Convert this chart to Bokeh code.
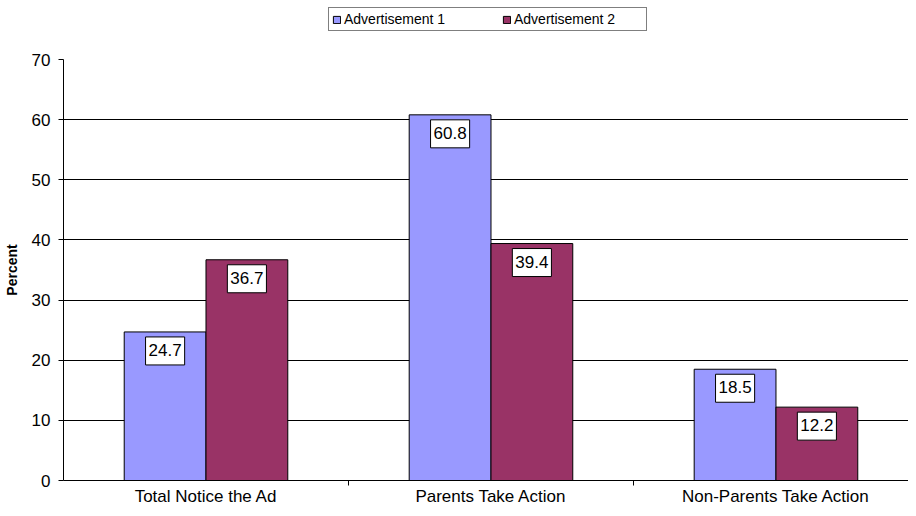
from bokeh.plotting import figure
from bokeh.layouts import column
from bokeh.models import (ColumnDataSource, Range1d, FixedTicker,
                          Legend, LegendItem)
from bokeh.transform import dodge
from bokeh.core.properties import value
from bokeh.embed import file_html
from bokeh.resources import INLINE

categories = ["Total Notice the Ad", "Parents Take Action", "Non-Parents Take Action"]
ad1 = [24.7, 60.8, 18.5]
ad2 = [36.7, 39.4, 12.2]
series_names = ["Advertisement 1", "Advertisement 2"]
series_colors = ["#9999FF", "#993366"]
y_ticks = [0, 10, 20, 30, 40, 50, 60, 70]
y_title = "Percent"

FONT = "Liberation Sans"
W = 908
LEG_H = 45
x_pos = [i + 0.5 for i in range(len(categories))]
x_bounds = [i for i in range(1, len(categories))]
src = ColumnDataSource(dict(
    x=x_pos, ad1=ad1, ad2=ad2,
    l1=[f"{v:.1f}" for v in ad1], l2=[f"{v:.1f}" for v in ad2],
))

p = figure(width=W, height=508 - LEG_H, output_backend="svg", toolbar_location=None,
           x_range=Range1d(0, 2.965), y_range=Range1d(0, 70),
           min_border_left=61, min_border_right=0, min_border_top=14,
           min_border_bottom=27)
p.outline_line_color = None
p.background_fill_color = "white"

bw = 0.287
r1 = p.vbar(x=dodge("x", -bw / 2, range=p.x_range), top="ad1", width=bw, source=src,
            fill_color=series_colors[0], line_color="black", line_width=1)
r2 = p.vbar(x=dodge("x", bw / 2, range=p.x_range), top="ad2", width=bw, source=src,
            fill_color=series_colors[1], line_color="black", line_width=1)

pad = dict(left=3, right=3, top=7, bottom=9)
for col, lab, off in (("ad1", "l1", -bw / 2), ("ad2", "l2", bw / 2)):
    p.text(x=dodge("x", off, range=p.x_range), y=col, text=lab, source=src,
           text_align="center", text_baseline="top", y_offset=5,
           text_font=value(FONT), text_font_size="17px", text_color="black",
           background_fill_color="white", border_line_color="black",
           border_line_width=1, padding=pad)

# y axis
p.yaxis.ticker = FixedTicker(ticks=y_ticks)
p.yaxis.major_tick_out = 5
p.yaxis.major_tick_in = 0
p.yaxis.minor_tick_line_color = None
p.yaxis.axis_line_color = "black"
p.yaxis.major_tick_line_color = "black"
p.yaxis.major_label_text_font = FONT
p.yaxis.major_label_text_font_size = "17px"
p.yaxis.major_label_text_color = "black"
p.yaxis.major_label_standoff = 8
p.yaxis.axis_label = y_title
p.yaxis.axis_label_text_font = FONT
p.yaxis.axis_label_text_font_size = "14px"
p.yaxis.axis_label_text_font_style = "bold"
p.yaxis.axis_label_text_color = "black"
p.yaxis.axis_label_standoff = 9

p.ygrid.ticker = FixedTicker(ticks=y_ticks)
p.ygrid.grid_line_color = "black"
p.ygrid.grid_line_width = 1
p.xgrid.visible = False

# x axis: category labels at centres, small ticks at category boundaries
xa = p.xaxis[0]
xa.ticker = FixedTicker(ticks=x_pos, minor_ticks=x_bounds)
xa.major_label_overrides = {x: c for x, c in zip(x_pos, categories)}
xa.major_tick_line_color = None
xa.major_tick_out = 5
xa.major_tick_in = 0
xa.minor_tick_line_color = "black"
xa.minor_tick_out = 5
xa.minor_tick_in = 0
xa.axis_line_color = "black"
xa.major_label_standoff = 1
xa.major_label_text_font = FONT
xa.major_label_text_font_size = "17px"
xa.major_label_text_color = "black"

# legend strip above the chart (placeholder glyphs lie outside its visible range)
lf = figure(width=W, height=LEG_H, output_backend="svg", toolbar_location=None,
            x_range=Range1d(0, 1), y_range=Range1d(0, 1),
            x_axis_location=None, y_axis_location=None, min_border=0)
lf.outline_line_color = None
lf.grid.visible = False
lr1 = lf.vbar(x=[-5], bottom=[-5], top=[-4], width=0.1,
              fill_color=series_colors[0], line_color="black")
lr2 = lf.vbar(x=[-5], bottom=[-5], top=[-4], width=0.1,
              fill_color=series_colors[1], line_color="black")
legend = Legend(items=[LegendItem(label=series_names[0], renderers=[lr1]),
                       LegendItem(label=series_names[1], renderers=[lr2])],
                orientation="horizontal", location=(265, LEG_H - 9 - 22),
                glyph_width=9, glyph_height=9, label_standoff=3,
                label_height=15, label_width=129, spacing=29, padding=3, margin=0,
                border_line_color="black", border_line_width=1,
                background_fill_color="white", background_fill_alpha=1,
                label_text_font=FONT, label_text_font_size="14px",
                label_text_color="black")
lf.add_layout(legend)

layout = column(lf, p, spacing=0)
open("out.html", "w").write(file_html(layout, INLINE))
